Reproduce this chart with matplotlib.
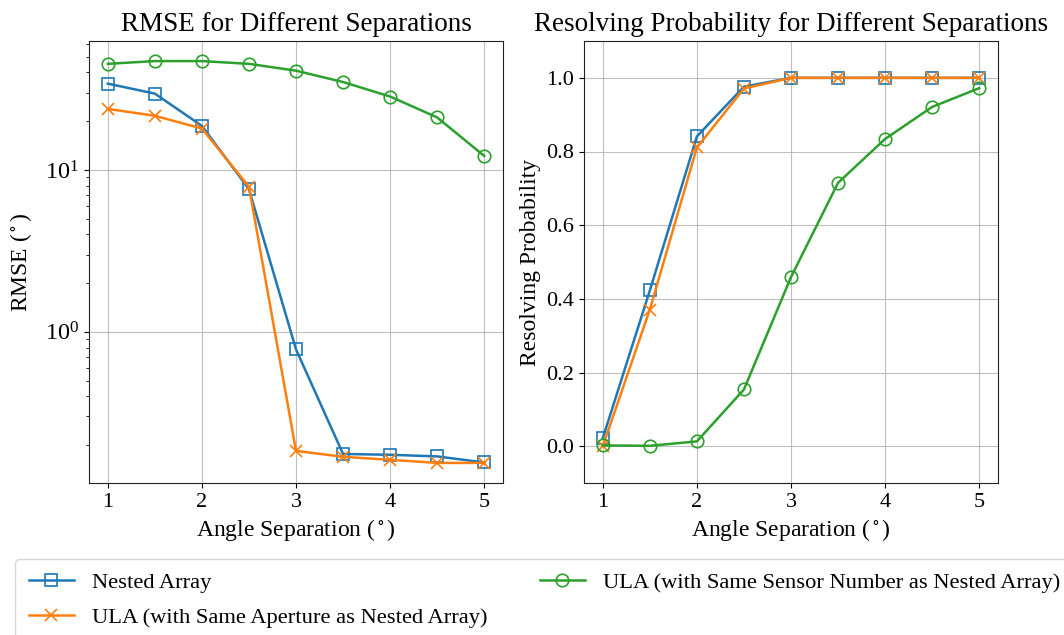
import matplotlib
matplotlib.use("Agg")
import matplotlib.pyplot as plt

plt.rcParams["font.family"] = ["Liberation Serif", "DejaVu Serif"]
plt.rcParams["mathtext.fontset"] = "stix"

separations = [1.0, 1.5, 2.0, 2.5, 3.0, 3.5, 4.0, 4.5, 5.0]
series_names = [
    "Nested Array",
    "ULA (with Same Aperture as Nested Array)",
    "ULA (with Same Sensor Number as Nested Array)",
]

rmse_nested = [34.1, 29.6, 18.7, 7.6, 0.779, 0.176, 0.174, 0.170, 0.156]
rmse_ula_aperture = [23.8, 21.6, 18.0, 7.87, 0.184, 0.169, 0.162, 0.155, 0.155]
rmse_ula_sensors = [45.2, 47.0, 47.0, 45.2, 41.0, 34.9, 28.4, 21.1, 12.2]

prob_nested = [0.022, 0.423, 0.841, 0.976, 1.0, 1.0, 1.0, 1.0, 1.0]
prob_ula_aperture = [0.0, 0.371, 0.811, 0.971, 1.0, 1.0, 1.0, 1.0, 1.0]
prob_ula_sensors = [0.002, 0.001, 0.013, 0.154, 0.459, 0.715, 0.834, 0.921, 0.972]

colors = ["#1f77b4", "#ff7f0e", "#2ca02c"]
markers = ["s", "x", "o"]

W, H = 1064, 635
fig = plt.figure(figsize=(W / 100, H / 100), dpi=100)

ax1 = fig.add_axes([89 / W, 1 - 483 / H, 414 / W, (483 - 41) / H])
ax2 = fig.add_axes([584 / W, 1 - 483 / H, 414 / W, (483 - 41) / H])

lines = []
for vals, c, m, name in zip([rmse_nested, rmse_ula_aperture, rmse_ula_sensors],
                            colors, markers, series_names):
    ln, = ax1.plot(separations, vals, color=c, marker=m, markersize=9,
                   markerfacecolor="none", markeredgewidth=1.2,
                   linewidth=1.8, label=name)
    lines.append(ln)
ax1.set_yscale("log")
ax1.set_title("RMSE for Different Separations", fontsize=19.5, pad=7)
ax1.set_xlabel(r"Angle Separation ($^\circ$)", fontsize=17)
ax1.set_ylabel(r"RMSE ($^\circ$)", fontsize=17, labelpad=8)

for vals, c, m, name in zip([prob_nested, prob_ula_aperture, prob_ula_sensors],
                            colors, markers, series_names):
    ax2.plot(separations, vals, color=c, marker=m, markersize=9,
             markerfacecolor="none", markeredgewidth=1.2,
             linewidth=1.8, label=name)
ax2.set_ylim(-0.1, 1.1)
ax2.set_yticks([0.0, 0.2, 0.4, 0.6, 0.8, 1.0])
ax2.set_title("Resolving Probability for Different Separations", fontsize=19.5, pad=7)
ax2.set_xlabel(r"Angle Separation ($^\circ$)", fontsize=17)
ax2.set_ylabel("Resolving Probability", fontsize=17)

for ax in (ax1, ax2):
    ax.set_xticks([1, 2, 3, 4, 5])
    ax.set_xlim(0.8, 5.2)
    ax.grid(True, which="major", color="#b0b0b0", linewidth=0.8, alpha=0.8)
    ax.tick_params(labelsize=16)
    for s in ax.spines.values():
        s.set_color("#222222")
ax1.tick_params(axis="y", which="major", labelsize=17.5)

fig.legend(handles=lines, labels=series_names, loc="upper left",
           bbox_to_anchor=(15 / W, 1 - 559 / H),
           ncol=2, fontsize=16.2, frameon=True,
           edgecolor="#cccccc", fancybox=True, borderaxespad=0.0,
           borderpad=0.6, handlelength=2.0, labelspacing=0.6,
           columnspacing=2.35)

fig.savefig("out.png", dpi=100)
